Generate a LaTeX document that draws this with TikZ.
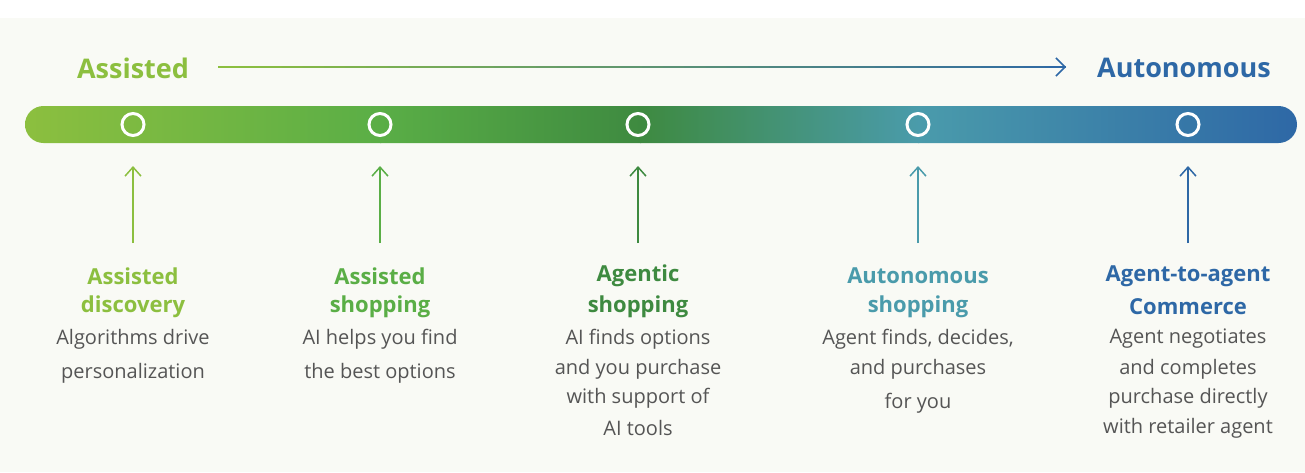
\documentclass[tikz,border=0pt]{standalone}
\usepackage{fontspec}
\setmainfont{Open Sans}
\usetikzlibrary{arrows.meta,calc}
\definecolor{cA}{HTML}{8CBF3F}
\definecolor{cB}{HTML}{5AAE46}
\definecolor{cC}{HTML}{3E8A40}
\definecolor{cD}{HTML}{4A9BAB}
\definecolor{cE}{HTML}{2E68A6}
\definecolor{bg}{HTML}{F9FAF5}
\definecolor{txt}{HTML}{555555}
\tikzset{
 ttl/.style={font=\fontsize{22}{26}\selectfont\bfseries, anchor=center, inner sep=0pt},
 bod/.style={font=\fontsize{20}{24}\selectfont, text=txt, anchor=center, inner sep=0pt},
 dot/.style={circle, draw=white, line width=3pt, minimum size=22pt, inner sep=0pt},
 up/.style={line width=1.5pt, -{Straight Barb[length=9pt,width=16pt]}},
}
\newcommand{\tline}[5]{\node[#4] (#1) at (#2pt,-#3pt) {#5};}
\begin{document}
\begin{tikzpicture}[x=1pt,y=1pt]
\useasboundingbox (0,0) rectangle (1305,-472);
\fill[bg] (0,-18) rectangle (1305,-472);
% bar
\begin{scope}
\clip[rounded corners=18.5pt] (25,-106) rectangle (1297,-143);
\shade[left color=cA,right color=cB] (25,-106) rectangle (381,-143);
\shade[left color=cB,right color=cC] (380,-106) rectangle (641,-143);
\shade[left color=cC,right color=cD] (640,-106) rectangle (919,-143);
\shade[left color=cD,right color=cE] (918,-106) rectangle (1297,-143);
\end{scope}
\foreach \n/\x/\c in {1/133/cA,2/380/cB,3/638/cC,4/918/cD,5/1188/cE}{
  \node[dot] (d\n) at (\x,-124.5) {};
  \coordinate (s\n) at (\x,-243);
  \coordinate (e\n) at (\x,-166);
  \draw[up,\c] (s\n) -- (e\n);
}
% top labels
\node[ttl, font=\fontsize{27}{30}\selectfont\bfseries, text=cA] (lA) at (133,-68) {Assisted};
\node[ttl, font=\fontsize{27}{30}\selectfont\bfseries, text=cE] (lB) at (1184,-68) {Autonomous};
\coordinate (a0) at (218,-67);
\coordinate (a1) at (1066,-67);
\foreach \i in {0,...,39}{
  \pgfmathsetmacro{\p}{\i*2.5}
  \colorlet{segc}{cE!\p!cA}
  \draw[segc, line width=1.5pt] ($(a0)!\i/40!(a1)$) -- ($(a0)!{(\i+1)/40}!(a1)$);
}
\draw[cE, line width=1.5pt, -{Straight Barb[length=9pt,width=18pt]}] ($(a0)!0.98!(a1)$) -- (a1);
% column texts
\tline{t1a}{133}{276}{ttl,text=cA}{Assisted}
\tline{t1b}{133}{307}{ttl,text=cA}{discovery}
\tline{b1a}{133}{339}{bod}{Algorithms drive}
\tline{b1b}{133}{373}{bod}{personalization}
\tline{t2a}{380}{276}{ttl,text=cB}{Assisted}
\tline{t2b}{380}{307}{ttl,text=cB}{shopping}
\tline{b2a}{380}{339}{bod}{AI helps you find}
\tline{b2b}{380}{373}{bod}{the best options}
\tline{t3a}{638}{276}{ttl,text=cC}{Agentic}
\tline{t3b}{638}{307}{ttl,text=cC}{shopping}
\tline{b3a}{638}{339}{bod}{AI finds options}
\tline{b3b}{638}{369}{bod}{and you purchase}
\tline{b3c}{638}{398}{bod}{with support of}
\tline{b3d}{638}{428}{bod}{AI tools}
\tline{t4a}{918}{276}{ttl,text=cD}{Autonomous}
\tline{t4b}{918}{307}{ttl,text=cD}{shopping}
\tline{b4a}{918}{339}{bod}{Agent finds, decides,}
\tline{b4b}{918}{369}{bod}{and purchases}
\tline{b4c}{918}{403}{bod}{for you}
\tline{t5a}{1188}{276}{ttl,text=cE}{Agent-to-agent}
\tline{t5b}{1188}{307}{ttl,text=cE}{Commerce}
\tline{b5a}{1188}{339}{bod}{Agent negotiates}
\tline{b5b}{1188}{369}{bod}{and completes}
\tline{b5c}{1188}{398}{bod}{purchase directly}
\tline{b5d}{1188}{428}{bod}{with retailer agent}
\end{tikzpicture}
\end{document}
